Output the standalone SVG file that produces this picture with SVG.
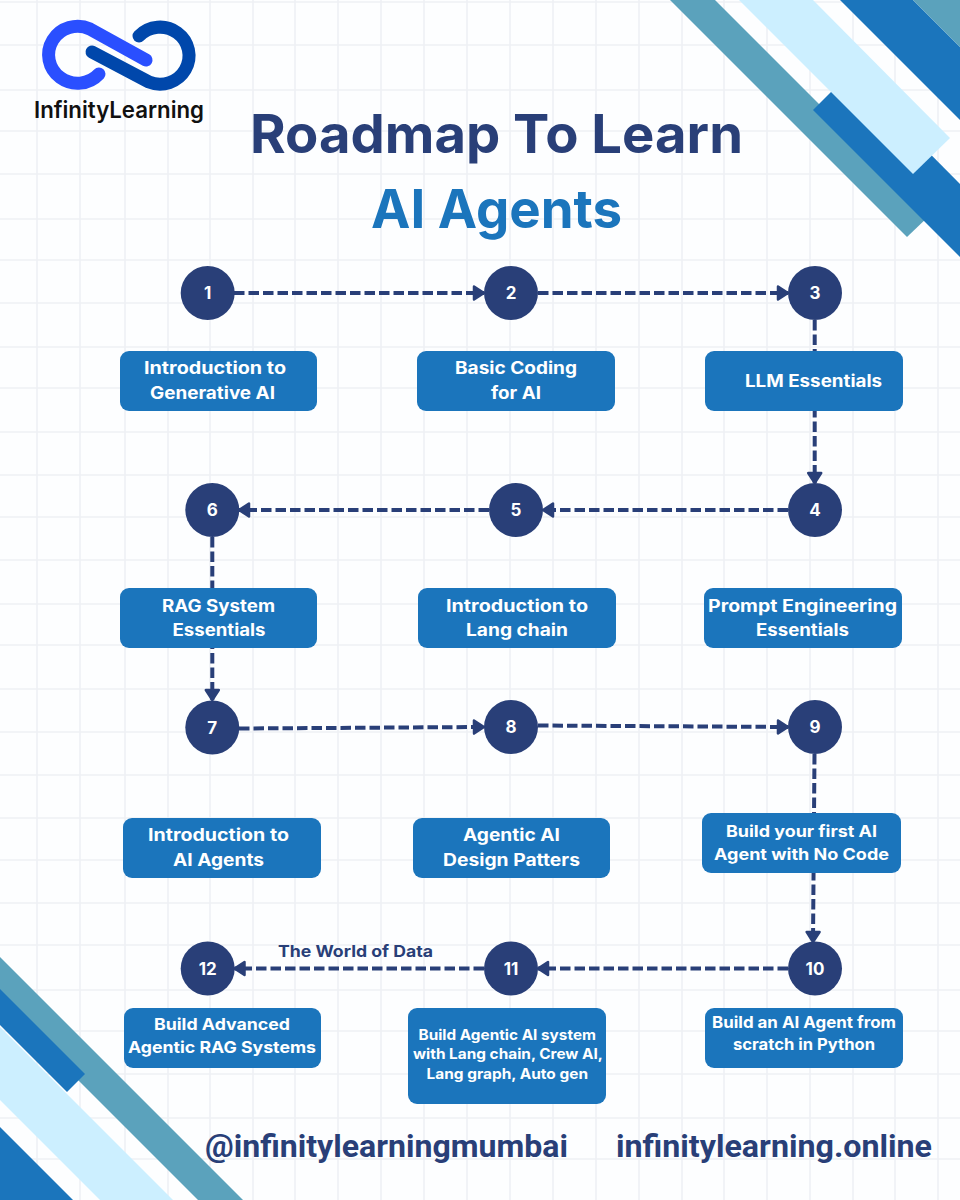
<svg xmlns="http://www.w3.org/2000/svg" width="960" height="1200" viewBox="0 0 960 1200">
<style>
.grid{stroke:#eef1f5;stroke-width:1.600;fill:none}
.blue{fill:#1b75bc}.teal{fill:#5ba2bc}.light{fill:#ccefff}
.n{fill:#293f78}
.b{fill:#1b75bc}
.num{font:700 17px Inter,"Open Sans",sans-serif;fill:#fff;text-anchor:middle}
.t{font:700 17px Inter,"Open Sans",sans-serif;fill:#fff}
.s{font-size:14.500px}
.m{font-size:16px}
.c{fill:none;stroke:#293f78;stroke-width:4;stroke-dasharray:10.500 4;marker-end:url(#a)}
.foot{font:700 32px Roboto,sans-serif;fill:#293f78}
.logo{fill:none;stroke-width:13;stroke-linecap:round}
</style>
<defs><marker id="a" markerUnits="userSpaceOnUse" markerWidth="16" markerHeight="20" refX="13" refY="10" orient="auto"><path d="M3 3.500 L13 10 L3 16.500Z" fill="#293f78" stroke="#293f78" stroke-width="2.500" stroke-linejoin="round"/></marker></defs>
<rect width="960" height="1200" fill="#fdfeff"/>
<path class="grid" d="M37 0V1200M80 0V1200M125 0V1200M168 0V1200M210 0V1200M253 0V1200M295 0V1200M338 0V1200M381 0V1200M424 0V1200M467 0V1200M510 0V1200M553 0V1200M596 0V1200M639 0V1200M682 0V1200M724 0V1200M767 0V1200M810 0V1200M853 0V1200M895 0V1200M938 0V1200"/>
<path class="grid" d="M0 2H960M0 45H960M0 90H960M0 131H960M0 174H960M0 219H960M0 260H960M0 303H960M0 347H960M0 388H960M0 432H960M0 475H960M0 517H960M0 560H960M0 604H960M0 645H960M0 689H960M0 732H960M0 775H960M0 818H960M0 860H960M0 903H960M0 945H960M0 990H960M0 1031H960M0 1074H960M0 1118H960M0 1159H960"/>
<g id="deco-top-right">
<polygon class="teal" points="670,0 715,0 930,215 907,237"/>
<polygon class="blue" points="813,110 850,73 960,184 960,257"/>
<polygon class="light" points="739,0 813,0 950,138 913,174"/>
<polygon class="blue" points="840,0 913,0 960,47 960,120"/>
<polygon class="teal" points="913,0 960,0 960,47"/>
</g>
<g id="deco-bottom-left">
<polygon class="teal" points="0,957 243,1200 198,1200 0,1002"/>
<polygon class="blue" points="0,989 85,1074 67,1092 0,1025"/>
<polygon class="light" points="0,1027 173,1200 100,1200 0,1100"/>
<polygon class="blue" points="0,1127 73,1200 0,1200"/>
</g>
<g id="logo">
<path class="logo" stroke="#2a4fff" d="M99 74A29 28.500 0 1 1 90 29L146 60"/>
<path class="logo" stroke="#0047ab" d="M92 52L149 82A29 28.500 0 1 0 139 36"/>
<text x="34" y="118" font-family="Inter,sans-serif" font-weight="600" font-size="23" textLength="170" lengthAdjust="spacingAndGlyphs" fill="#111">InfinityLearning</text>
</g>
<g id="title" font-family="Inter,sans-serif" font-weight="700" font-size="54">
<text x="250" y="153" textLength="493" lengthAdjust="spacingAndGlyphs" fill="#293f78">Roadmap To Learn</text>
<text x="371" y="228" textLength="251" lengthAdjust="spacingAndGlyphs" fill="#1b75bc">AI Agents</text>
</g>
<g id="connectors">
<path class="c" d="M234 293H484"/>
<path class="c" d="M538 293H788"/>
<path class="c" d="M814.700 320V483"/>
<path class="c" d="M788 510H543"/>
<path class="c" d="M489 510H239"/>
<path class="c" d="M212.300 537V700"/>
<path class="c" d="M239 728.500L484 727"/>
<path class="c" d="M538 725.500L788 727"/>
<path class="c" d="M814.500 754L813 942"/>
<path class="c" d="M788 968.500H538"/>
<path class="c" d="M484 968.500H234.500"/>
</g>
<g id="n1"><circle class="n" cx="207.700" cy="293" r="27"/><text class="num" x="207.700" y="299">1</text><rect class="b" x="120" y="351" width="197" height="60" rx="9"/><text class="t" x="144" y="374" textLength="142" lengthAdjust="spacingAndGlyphs">Introduction to</text><text class="t" x="150" y="399" textLength="125" lengthAdjust="spacingAndGlyphs">Generative AI</text></g>
<g id="n2"><circle class="n" cx="511" cy="293" r="27"/><text class="num" x="511" y="299">2</text><rect class="b" x="417" y="351" width="198" height="60" rx="9"/><text class="t" x="455" y="374" textLength="122" lengthAdjust="spacingAndGlyphs">Basic Coding</text><text class="t" x="491" y="399" textLength="50" lengthAdjust="spacingAndGlyphs">for AI</text></g>
<g id="n3"><circle class="n" cx="815" cy="293" r="27"/><text class="num" x="815" y="299">3</text><rect class="b" x="705" y="351" width="198" height="60" rx="9"/><text class="t" x="745" y="387" textLength="137" lengthAdjust="spacingAndGlyphs">LLM Essentials</text></g>
<g id="n4"><circle class="n" cx="815" cy="510" r="27"/><text class="num" x="815" y="516">4</text><rect class="b" x="704" y="588" width="198" height="60" rx="9"/><text class="t" x="708" y="612" textLength="189" lengthAdjust="spacingAndGlyphs">Prompt Engineering</text><text class="t" x="756" y="636" textLength="93" lengthAdjust="spacingAndGlyphs">Essentials</text></g>
<g id="n5"><circle class="n" cx="516" cy="510" r="27"/><text class="num" x="516" y="516">5</text><rect class="b" x="418" y="588" width="198" height="60" rx="9"/><text class="t" x="446" y="612" textLength="142" lengthAdjust="spacingAndGlyphs">Introduction to</text><text class="t" x="466" y="636" textLength="102" lengthAdjust="spacingAndGlyphs">Lang chain</text></g>
<g id="n6"><circle class="n" cx="212.300" cy="510" r="27"/><text class="num" x="212.300" y="516">6</text><rect class="b" x="120" y="588" width="197" height="60" rx="9"/><text class="t" x="162" y="612" textLength="113" lengthAdjust="spacingAndGlyphs">RAG System</text><text class="t" x="172.500" y="636" textLength="93" lengthAdjust="spacingAndGlyphs">Essentials</text></g>
<g id="n7"><circle class="n" cx="212.300" cy="727.500" r="27"/><text class="num" x="212.300" y="733.500">7</text><rect class="b" x="123" y="818" width="198" height="60" rx="9"/><text class="t" x="148" y="841" textLength="141" lengthAdjust="spacingAndGlyphs">Introduction to</text><text class="t" x="173" y="866" textLength="91" lengthAdjust="spacingAndGlyphs">AI Agents</text></g>
<g id="n8"><circle class="n" cx="511" cy="727" r="27"/><text class="num" x="511" y="733">8</text><rect class="b" x="413" y="818" width="197" height="60" rx="9"/><text class="t" x="463" y="841" textLength="97" lengthAdjust="spacingAndGlyphs">Agentic AI</text><text class="t" x="443" y="866" textLength="137" lengthAdjust="spacingAndGlyphs">Design Patters</text></g>
<g id="n9"><circle class="n" cx="815" cy="727" r="27"/><text class="num" x="815" y="733">9</text><rect class="b" x="702" y="813" width="199" height="60" rx="9"/><text class="t m" x="726" y="837" textLength="151" lengthAdjust="spacingAndGlyphs">Build your first AI</text><text class="t m" x="714" y="860" textLength="175" lengthAdjust="spacingAndGlyphs">Agent with No Code</text></g>
<g id="n10"><circle class="n" cx="815" cy="968.500" r="27"/><text class="num" x="815" y="974.500">10</text><rect class="b" x="705" y="1008" width="198" height="60" rx="9"/><text class="t m" x="712" y="1028" textLength="184" lengthAdjust="spacingAndGlyphs">Build an AI Agent from</text><text class="t m" x="733" y="1050" textLength="142" lengthAdjust="spacingAndGlyphs">scratch in Python</text></g>
<g id="n11"><circle class="n" cx="511" cy="968.500" r="27"/><text class="num" x="511" y="974.500">11</text><rect class="b" x="408" y="1008" width="198" height="96" rx="9"/><text class="t s" x="418.500" y="1040" textLength="177.500" lengthAdjust="spacingAndGlyphs">Build Agentic AI system</text><text class="t s" x="413" y="1059" textLength="190" lengthAdjust="spacingAndGlyphs">with Lang chain, Crew AI,</text><text class="t s" x="426.500" y="1079" textLength="161.500" lengthAdjust="spacingAndGlyphs">Lang graph, Auto gen</text></g>
<g id="n12"><circle class="n" cx="207.700" cy="968.500" r="27"/><text class="num" x="207.700" y="974.500">12</text><rect class="b" x="124" y="1008" width="197" height="60" rx="9"/><text class="t m" x="154" y="1030" textLength="136" lengthAdjust="spacingAndGlyphs">Build Advanced</text><text class="t m" x="128" y="1053" textLength="188" lengthAdjust="spacingAndGlyphs">Agentic RAG Systems</text></g>
<text x="278" y="957" font-family="Inter,sans-serif" font-weight="700" font-size="16" textLength="155" lengthAdjust="spacingAndGlyphs" fill="#293f78">The World of Data</text>
<g id="footer">
<text class="foot" x="205" y="1157" textLength="363" lengthAdjust="spacingAndGlyphs">@infinitylearningmumbai</text>
<text class="foot" x="616" y="1157" textLength="316" lengthAdjust="spacingAndGlyphs">infinitylearning.online</text>
</g>
</svg>
